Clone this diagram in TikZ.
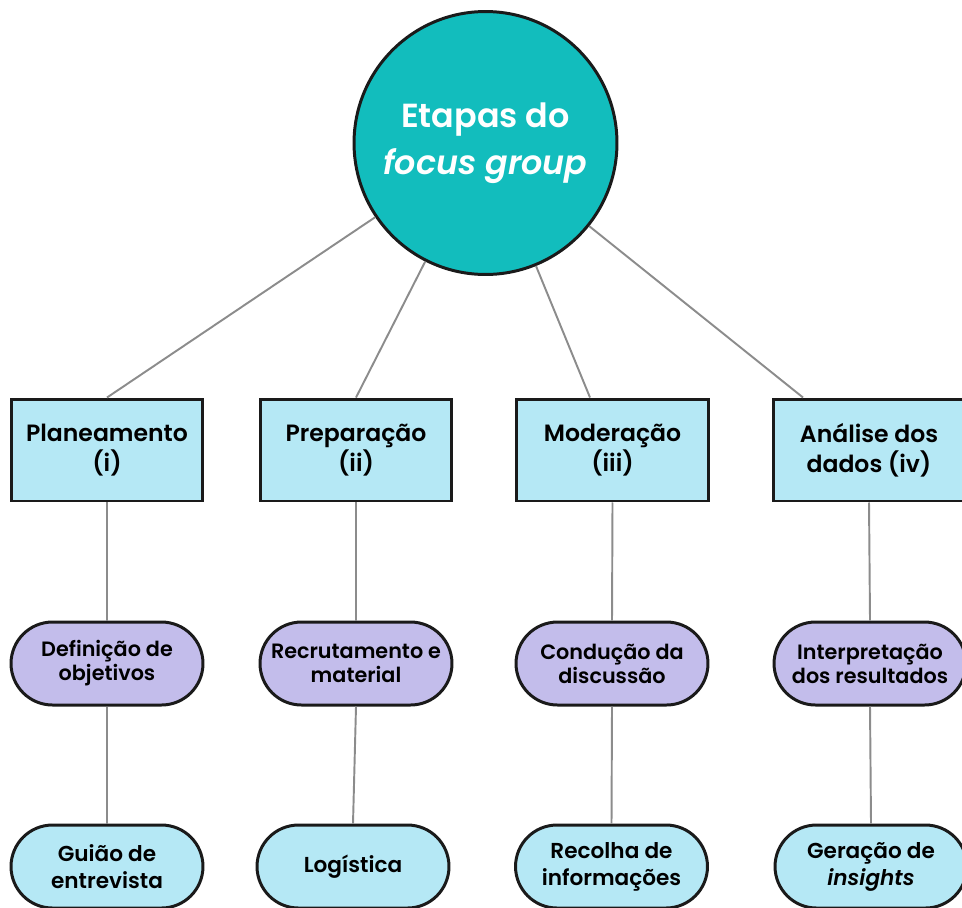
\documentclass[tikz,border=0pt]{standalone}
\usepackage{fontspec}
\setmainfont{Poppins}[BoldFont={Poppins SemiBold},BoldItalicFont={Poppins SemiBold Italic}]
\usepackage{xcolor}
\usetikzlibrary{positioning}

\definecolor{hubteal}{HTML}{12BDBD}
\definecolor{stageblue}{HTML}{B5E8F5}
\definecolor{tasklilac}{HTML}{C3BDEB}
\definecolor{linkgray}{HTML}{8C8C8C}
\definecolor{edgeblack}{HTML}{1A1A1A}

\tikzset{
  hub/.style={circle, draw=edgeblack, line width=1.7pt, fill=hubteal, minimum size=5.26cm,
    inner sep=0pt, align=center, text=white, font=\bfseries\fontsize{19}{26.6}\selectfont},
  stage/.style={rectangle, draw=edgeblack, line width=1.7pt, fill=stageblue, minimum width=3.84cm,
    minimum height=2.04cm, inner sep=0pt, align=center, font=\bfseries\fontsize{13.4}{17}\selectfont},
  task/.style={rectangle, rounded corners=0.83cm, draw=edgeblack, line width=1.7pt, minimum width=3.84cm,
    minimum height=1.66cm, inner sep=0pt, align=center, font=\bfseries\fontsize{11.8}{13.6}\selectfont},
  outcome/.style={task, fill=stageblue, font=\bfseries\fontsize{12.3}{15.3}\selectfont},
  link/.style={draw=linkgray, line width=1.1pt},
}

\begin{document}
\begin{tikzpicture}[x=0.02cm, y=-0.02cm]
  \useasboundingbox (0,0) rectangle (962,907);

  \def\rowstage{450}
  \def\rowtask{663.5}
  \def\rowout{866.5}

  \node[hub] (hub) at (485.5,143) {Etapas do\\\textit{focus group}};

  \node[stage] (plan) at (107,\rowstage) {Planeamento\\(i)};
  \node[stage] (prep) at (356,\rowstage) {Preparação\\(ii)};
  \node[stage] (mod)  at (612.5,\rowstage) {Moderação\\(iii)};
  \node[stage] (anal) at (869,\rowstage) {Análise dos\\dados (iv)};

  \node[task, fill=tasklilac] (plantask) at (107,\rowtask) {Definição de\\objetivos};
  \node[task, fill=tasklilac] (preptask) at (356,\rowtask) {Recrutamento e\\material};
  \node[task, fill=tasklilac] (modtask)  at (612,\rowtask) {Condução da\\discussão};
  \node[task, fill=tasklilac] (analtask) at (870,\rowtask) {Interpretação\\dos resultados};

  \node[outcome] (planout) at (107,\rowout) {Guião de\\entrevista};
  \node[outcome] (prepout) at (353,\rowout) {Logística};
  \node[outcome] (modout)  at (611.5,\rowout) {Recolha de\\informações};
  \node[outcome] (analout) at (871,\rowout) {Geração de\\\textit{insights}};

  \draw[link] (plan.north) -- (hub);
  \draw[link] (prep.north) -- (hub);
  \draw[link] ([xshift=-0.45cm]mod.north) -- (hub);
  \draw[link] ([xshift=-1.32cm]anal.north) -- (hub);

  \draw[link] (plan.south) -- (plantask.north);
  \draw[link] (prep.south) -- (preptask.north);
  \draw[link] (mod.south) -- (modtask.north);
  \draw[link] (anal.south) -- (analtask.north);

  \draw[link] (plantask.south) -- (planout.north);
  \draw[link] (preptask.south) -- (prepout.north);
  \draw[link] (modtask.south) -- (modout.north);
  \draw[link] (analtask.south) -- (analout.north);
\end{tikzpicture}
\end{document}
